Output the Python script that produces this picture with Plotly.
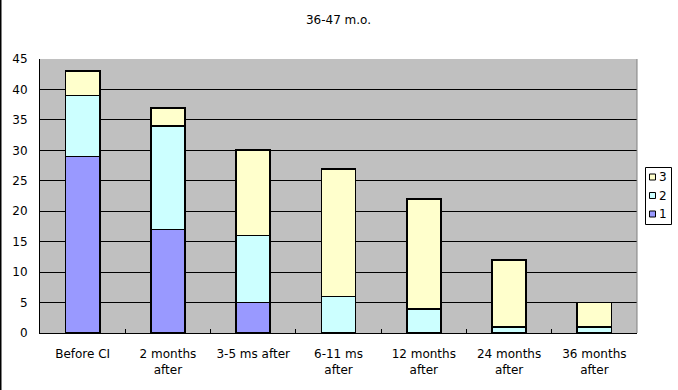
import plotly.graph_objects as go

categories = ["Before CI", "2 months<br>after", "3-5 ms after", "6-11 ms<br>after",
              "12 months<br>after", "24 months<br>after", "36 months<br>after"]
series_names = ["1", "2", "3"]
series_1 = [29, 17, 5, 0, 0, 0, 0]
series_2 = [10, 17, 11, 6, 4, 1, 1]
series_3 = [4, 3, 14, 21, 18, 11, 4]
y_ticks = [0, 5, 10, 15, 20, 25, 30, 35, 40, 45]
colors = ["#9999FF", "#CCFFFF", "#FFFFCC"]

FONT = "DejaVu Sans, Liberation Sans, sans-serif"

fig = go.Figure()
for name, vals, color in zip(series_names, [series_1, series_2, series_3], colors):
    fig.add_trace(go.Bar(
        x=categories, y=vals, name=name,
        marker=dict(color=color, line=dict(color="black", width=1.8)),
        width=0.4,
    ))

W, H = 678, 390
ml, mr, mt, mb = 40, 41, 59, 57
pw = W - ml - mr
ph = H - mt - mb


def px(x):
    return (x - ml) / pw


def py(y):
    return (H - mb - y) / ph


fig.update_layout(
    width=W, height=H,
    margin=dict(l=ml, r=mr, t=mt, b=mb, pad=0, autoexpand=False),
    barmode="stack",
    paper_bgcolor="white",
    plot_bgcolor="#C0C0C0",
    font=dict(family=FONT, size=12, color="black"),
    title=dict(text="36-47 m.o.", x=0.5, xref="paper", y=1 - 20 / H, yanchor="middle",
               xanchor="center", font=dict(size=12, family=FONT)),
    showlegend=False,
    bargap=0.6,
)
fig.update_xaxes(
    showgrid=False, showline=True, linecolor="black", linewidth=1,
    ticks="inside", tickson="boundaries", ticklen=4, tickcolor="black",
    tickfont=dict(size=12), automargin=False, ticklabelstandoff=10,
)
fig.update_yaxes(
    range=[0, 45], tickvals=y_ticks, showgrid=True, gridcolor="black", gridwidth=1,
    showline=True, linecolor="black", linewidth=1,
    ticks="outside", ticklen=9, tickcolor="rgba(0,0,0,0)", zeroline=False,
    tickfont=dict(size=12), automargin=False,
)
# left frame line of the chart area
fig.add_shape(type="line", xref="paper", yref="paper",
              x0=px(0.75), x1=px(0.75), y0=py(H), y1=py(0),
              line=dict(color="black", width=1.5))
# grey right edge of the plot area
fig.add_shape(type="line", xref="paper", yref="paper",
              x0=1, x1=1, y0=0, y1=1, layer="above",
              line=dict(color="#808080", width=1))

# legend box (manual, compact like the original)
fig.add_shape(type="rect", xref="paper", yref="paper",
              x0=px(645.5), x1=px(671.5), y0=py(224.5), y1=py(167.5),
              line=dict(color="black", width=1), fillcolor="white")
legend_rows = [(177, 2), (195.5, 1), (214, 0)]
for yc, idx in legend_rows:
    fig.add_shape(type="rect", xref="paper", yref="paper",
                  x0=px(649.5), x1=px(655.5), y0=py(yc + 3), y1=py(yc - 3),
                  line=dict(color="black", width=1), fillcolor=colors[idx])
    fig.add_annotation(xref="paper", yref="paper", x=px(658), y=py(yc),
                       text=series_names[idx], showarrow=False,
                       xanchor="left", yanchor="middle",
                       font=dict(size=12, family=FONT), borderpad=0)

fig.write_html("out.html", config={"displayModeBar": False},
               post_script="document.body.style.margin='0';document.body.style.overflow='hidden';")
